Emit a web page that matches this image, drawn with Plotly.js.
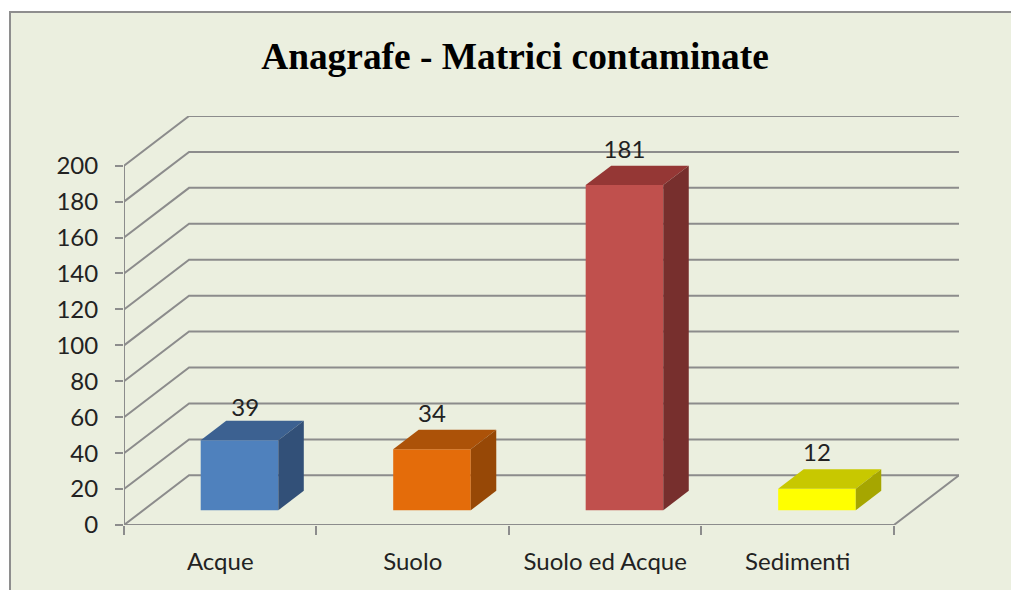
<!DOCTYPE html>
<html><head><meta charset="utf-8">
<script src="https://cdn.plot.ly/plotly-3.0.1.min.js"></script>
<style>
html,body{margin:0;padding:0;background:#fff;width:1011px;height:590px;overflow:hidden}
#frame{position:absolute;left:9px;top:11px;width:1002px;height:579px;box-sizing:border-box;background:#EBEFDF;border-left:2px solid #8E8E8E;border-top:2px solid #8E8E8E}
#chart{position:absolute;left:0;top:0;width:1011px;height:590px}
</style></head><body>
<div id="frame"></div><div id="chart"></div>
<script>
const categories = ['Acque','Suolo','Suolo ed Acque','Sedimenti'];
const values = [39,34,181,12];
const frontColors = ['#4F81BD','#E46C0A','#C0504D','#FFFF00'];
const topColors = ['#3C6191','#AC5208','#953735','#C8C800'];
const sideColors = ['#325078','#974806','#772F2D','#A6A600'];
const yTicks = [0,20,40,60,80,100,120,140,160,180,200];
const xEdges = [0,1,2,3,4];
const xCenters = [0.5,1.5,2.5,3.5];

const depthX = 0.338, depthY = 27.66;   // full depth of the floor, in axis units
const barZ0 = 0.296, barZ = 0.392, barW = 0.403;
const labelNudgeX = [0.03,0,0,0], labelNudgeY = [-1.5,0,0,0];
const grid = '#8C8C8C';
const font = 'Lato, "Open Sans", sans-serif';
const lineShape = p => ({type:'path', xref:'x', yref:'y', layer:'below',
  path:p, line:{color:grid,width:2}});
const shapes = [];
yTicks.forEach(v => shapes.push(lineShape(
  `M0,${v} L${depthX},${v+depthY} L${4+depthX},${v+depthY}`)));
shapes.push(lineShape(`M0,0 L0,200`));
shapes.push(lineShape(`M0,0 L4,0 L${4+depthX},${depthY}`));

const baseY = barZ0*depthY;
const barX = xCenters.map(c => c + barZ0*depthX);
const traces = [{
  type:'bar', x:barX, y:values, base:values.map(()=>baseY), width:barW,
  marker:{color:frontColors,line:{width:0}}, hoverinfo:'skip', showlegend:false
}];
const dx = barZ*depthX, dy = barZ*depthY;
values.forEach((v,i) => {
  const l = barX[i]-barW/2, r = barX[i]+barW/2, t = baseY+v;
  traces.push({type:'scatter',mode:'lines',fill:'toself',fillcolor:topColors[i],line:{width:0},
    x:[l,r,r+dx,l+dx,l], y:[t,t,t+dy,t+dy,t], hoverinfo:'skip', showlegend:false});
  traces.push({type:'scatter',mode:'lines',fill:'toself',fillcolor:sideColors[i],line:{width:0},
    x:[r,r+dx,r+dx,r,r], y:[baseY,baseY+dy,t+dy,t,baseY], hoverinfo:'skip', showlegend:false});
});
traces.push({type:'scatter',mode:'text',xaxis:'x2',yaxis:'y',
  x:barX.map((x,i)=>x+labelNudgeX[i]), y:values.map((v,i)=>baseY+v+dy+1+labelNudgeY[i]), text:values.map(String),
  textposition:'top center', textfont:{family:font,size:24,color:'#222'},
  cliponaxis:false, hoverinfo:'skip', showlegend:false});

const xRange = [0,4+depthX], yRange = [0,200+depthY];
const layout = {
  width:1011, height:590,
  margin:{l:124,r:52,t:115.5,b:65,pad:0},
  paper_bgcolor:'rgba(0,0,0,0)', plot_bgcolor:'rgba(0,0,0,0)',
  showlegend:false,
  title:{text:'Anagrafe - Matrici contaminate', x:515/1011, y:1-56/590, xanchor:'center', yanchor:'middle',
    font:{family:'"Liberation Serif", serif',size:37.4,weight:700,color:'#000'}},
  xaxis:{range:xRange, tickmode:'array', tickvals:xEdges, showticklabels:false, ticks:'outside',
    ticklen:9, tickwidth:2, tickcolor:grid, showgrid:false, zeroline:false, showline:false},
  xaxis2:{range:xRange, overlaying:'x', anchor:'y', side:'bottom', tickmode:'array', tickvals:xCenters, ticktext:categories,
    ticks:'', ticklabelstandoff:20, tickfont:{family:font,size:24,color:'#222'}, showgrid:false, zeroline:false, showline:false},
  yaxis:{range:yRange, tickmode:'array', tickvals:yTicks, ticks:'outside', ticklen:8, tickwidth:2, tickcolor:grid,
    ticklabelstandoff:12, tickfont:{family:font,size:24,color:'#222'}, showgrid:false, zeroline:false, showline:false},
  shapes:shapes
};
Plotly.newPlot('chart',traces,layout,{displayModeBar:false,staticPlot:true});
</script></body></html>
